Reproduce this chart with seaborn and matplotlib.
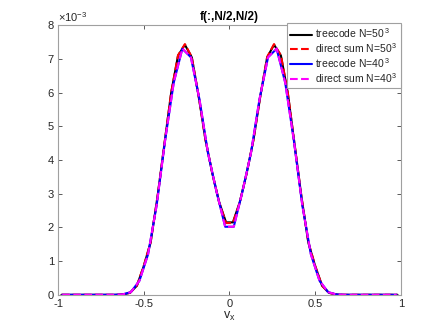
import numpy as np
import pandas as pd
import matplotlib
matplotlib.use("Agg")
import matplotlib.pyplot as plt
import seaborn as sns

# ---- data (values in units of 1e-3) ----
x50 = np.linspace(-0.98, 0.98, 50)
x40 = np.linspace(-0.975, 0.975, 40)

tree50 = [0, 0, 0, 0, 0, 0, 0, 0, 0.0, 0.01, 0.06, 0.27, 0.85, 1.55, 2.9, 4.45, 6.0, 7.1, 7.42, 7.05,
          5.9, 4.6, 3.6, 2.75, 2.15,
          2.15, 2.75, 3.6, 4.6, 5.9,
          7.05, 7.42, 7.1, 6.0, 4.45, 2.9, 1.55, 0.85, 0.27, 0.06, 0.01, 0.0, 0, 0, 0, 0, 0, 0, 0, 0]
direct50 = [0, 0, 0, 0, 0, 0, 0, 0, 0.0, 0.01, 0.06, 0.27, 0.86, 1.56, 2.9, 4.46, 6.0, 7.11, 7.44, 7.06,
            5.9, 4.6, 3.6, 2.74, 2.13,
            2.13, 2.74, 3.6, 4.6, 5.9,
            7.06, 7.44, 7.11, 6.0, 4.46, 2.9, 1.56, 0.86, 0.27, 0.06, 0.01, 0.0, 0, 0, 0, 0, 0, 0, 0, 0]
tree40 = [0, 0, 0, 0, 0, 0, 0, 0.01, 0.08, 0.42, 1.2, 2.65, 4.6, 6.3, 7.3, 7.05, 5.8, 4.2, 3.05, 2.02,
          2.02, 3.05, 4.2, 5.8, 7.05, 7.3, 6.3, 4.6, 2.65, 1.2, 0.42, 0.08, 0.01, 0, 0, 0, 0, 0, 0, 0]
direct40 = [0, 0, 0, 0, 0, 0, 0, 0.01, 0.08, 0.42, 1.2, 2.65, 4.6, 6.3, 7.31, 7.05, 5.8, 4.2, 3.05, 2.02,
            2.02, 3.05, 4.2, 5.8, 7.05, 7.31, 6.3, 4.6, 2.65, 1.2, 0.42, 0.08, 0.01, 0, 0, 0, 0, 0, 0, 0]

labels = ['treecode N=50$^{\\,3}$', 'direct sum N=50$^{\\,3}$',
          'treecode N=40$^{\\,3}$', 'direct sum N=40$^{\\,3}$']
colors = ['black', 'red', 'blue', 'magenta']
styles = ['-', '--', '-', '--']

df = pd.concat([
    pd.DataFrame({'v': x50, 'f': tree50, 's': labels[0]}),
    pd.DataFrame({'v': x50, 'f': direct50, 's': labels[1]}),
    pd.DataFrame({'v': x40, 'f': tree40, 's': labels[2]}),
    pd.DataFrame({'v': x40, 'f': direct40, 's': labels[3]}),
], ignore_index=True)

sns.set_style("white")
plt.rcParams['font.family'] = ['Liberation Sans', 'DejaVu Sans']
plt.rcParams['mathtext.fontset'] = 'custom'
plt.rcParams['mathtext.rm'] = 'Liberation Sans'
plt.rcParams['mathtext.it'] = 'Liberation Sans'

fig = plt.figure(figsize=(4.43, 3.32), dpi=100)
ax = fig.add_axes([0.131, 0.112, 0.774, 0.812])

for lab, c, ls in zip(labels, colors, styles):
    sub = df[df['s'] == lab]
    sns.lineplot(data=sub, x='v', y='f', ax=ax, color=c, linestyle=ls,
                 linewidth=1.5, label=lab, estimator=None, sort=False)

ax.set_xlim(-1, 1)
ax.set_ylim(0, 8)
ax.set_xticks([-1, -0.5, 0, 0.5, 1])
ax.set_xticklabels(['-1', '-0.5', '0', '0.5', '1'])
ax.set_yticks(range(0, 9))

tc = '#262626'
for sp in ax.spines.values():
    sp.set_visible(True)
    sp.set_color('#a0a0a0')
    sp.set_linewidth(0.8)
ax.tick_params(direction='in', length=3, width=0.6, color='#404040',
               labelsize=8, labelcolor=tc, top=True, right=True,
               bottom=True, left=True, pad=3)

ax.set_xlabel(r'v$_\mathregular{x}$', fontsize=9, color=tc, labelpad=1)
ax.set_ylabel('')
ax.set_title('f(:,N/2,N/2)', fontsize=8.5, fontweight='bold', color='black', pad=4)
ax.text(0.0, 1.003, r'$\times10^{-3}$', transform=ax.transAxes, ha='left',
        va='bottom', fontsize=8, color=tc)

leg = ax.legend(loc='upper right', bbox_to_anchor=(1.0, 1.007), borderaxespad=0,
                fontsize=7.5, frameon=True, fancybox=False, framealpha=1,
                edgecolor='#a0a0a0', handlelength=2.1, handletextpad=0.3,
                labelspacing=0.1, borderpad=0.3)
leg.get_frame().set_linewidth(0.8)
for t in leg.get_texts():
    t.set_color(tc)

fig.savefig('out.png', dpi=100)
